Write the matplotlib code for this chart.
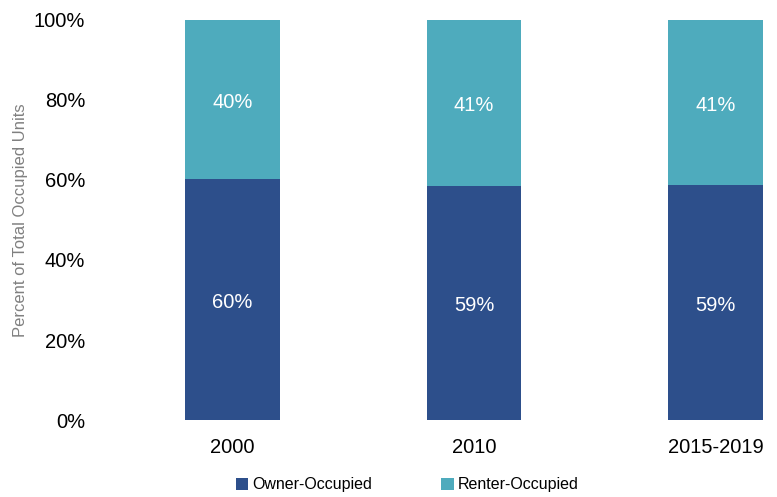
import matplotlib
matplotlib.use("Agg")
import matplotlib.pyplot as plt
from matplotlib import font_manager as fm
import numpy as np

categories = ["2000", "2010", "2015-2019"]
owner = [60.3, 58.6, 58.8]
renter = [39.7, 41.4, 41.2]
owner_labels = ["60%", "59%", "59%"]
renter_labels = ["40%", "41%", "41%"]

names = {f.name for f in fm.fontManager.ttflist}
fam = "Liberation Sans Narrow" if "Liberation Sans Narrow" in names else "Liberation Sans"
plt.rcParams['font.family'] = [fam, 'DejaVu Sans']

owner_c = "#2D4F8B"
renter_c = "#4EABBD"

fig = plt.figure(figsize=(7.77, 4.97), dpi=100)
ax = fig.add_axes([110/777, 1 - 420/497, (777-110)/777, 400/497])

x = np.arange(len(categories))
w = 0.39
ax.bar(x, owner, w, color=owner_c, label="Owner-Occupied")
ax.bar(x, renter, w, bottom=owner, color=renter_c, label="Renter-Occupied")

for i in range(len(categories)):
    ax.text(x[i], owner[i] / 2 - 0.8, owner_labels[i], ha="center", va="center",
            color="white", fontsize=14.5)
    ax.text(x[i], owner[i] + renter[i] / 2 - 0.8, renter_labels[i], ha="center",
            va="center", color="white", fontsize=14.5)

step = 241.5
left = (232.5 - 110) / step
ax.set_xlim(-left, 2 + (777 - 715.5) / step)
ax.set_ylim(0, 100)
ax.set_yticks([0, 20, 40, 60, 80, 100])
ax.set_yticklabels([f"{v}%" for v in [0, 20, 40, 60, 80, 100]], fontsize=14.5)
ax.set_xticks(x)
ax.set_xticklabels(categories, fontsize=14.5)
ax.tick_params(axis="both", length=0, colors="black")
ax.tick_params(axis="y", pad=18)
ax.tick_params(axis="x", pad=13)
for s in ax.spines.values():
    s.set_visible(False)

fig.text(21/777, 1 - 220/497, "Percent of Total Occupied Units", rotation=90,
         ha="center", va="center", color="#808080", fontsize=12)

handles, labels = ax.get_legend_handles_labels()
fig.legend(handles, labels, loc="center", bbox_to_anchor=(407/777, 1 - 485/497),
           ncol=2, frameon=False, fontsize=11.5, handlelength=0.8, handleheight=0.8,
           handletextpad=0.25, columnspacing=4.3)

fig.savefig("out.png", dpi=100)
